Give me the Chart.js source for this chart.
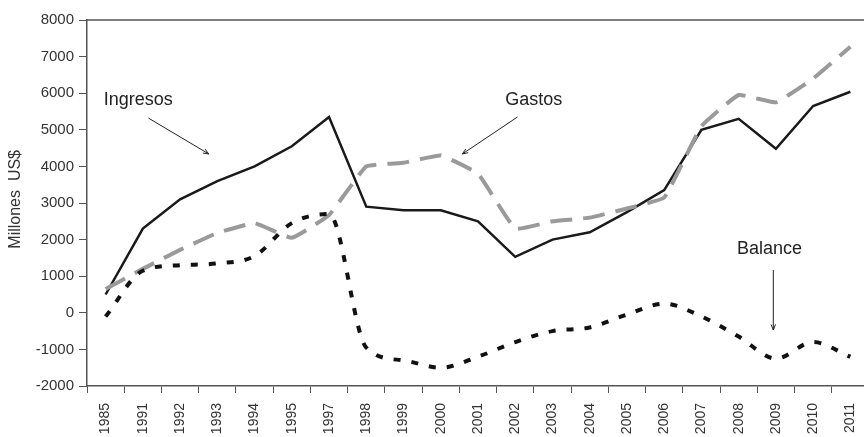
<!DOCTYPE html>
<html><head><meta charset="utf-8">
<script src="https://cdn.jsdelivr.net/npm/chart.js@4/dist/chart.umd.min.js"></script>
<style>html,body{margin:0;padding:0;background:#fff;overflow:hidden;width:864px;height:437px}canvas{display:block}</style>
</head><body>
<canvas id="c" width="880" height="437" style="width:880px;height:437px"></canvas>
<script>
const categories = ['1985','1991','1992','1993','1994','1995','1997','1998','1999','2000','2001','2002','2003','2004','2005','2006','2007','2008','2009','2010','2011'];
const ingresos = [500,2300,3100,3600,4000,4550,5350,2900,2800,2800,2500,1530,2000,2200,2750,3350,5000,5300,4480,5650,6040];
const gastos   = [650,1200,1720,2180,2450,2050,2670,4000,4100,4300,3800,2300,2500,2600,2850,3150,5100,5950,5750,6400,7270];
const balance  = [-100,1150,1300,1350,1550,2450,2700,-950,-1300,-1500,-1200,-800,-500,-400,-50,250,-100,-650,-1250,-800,-1200];
const yTitle = 'Millones  US$';
// annotations: text at (category index, value); arrows from/to (index, value)
const notes = [
  {text:'Ingresos', at:[-0.05,5815], align:'left', from:[1.15,5320], to:[2.77,4340]},
  {text:'Gastos', at:[11.5,5815], align:'center', from:[11.06,5350], to:[9.58,4340]},
  {text:'Balance', at:[17.83,1743], align:'center', from:[17.93,1170], to:[17.93,-470]}
];
const FONT = '"Liberation Sans", Arial, sans-serif';
const TXT = '#333333';
const AX = '#555555';

const annot = {
  id:'annot',
  afterDraw(chart){
    const {ctx, chartArea, scales:{x,y}} = chart;
    ctx.save();
    ctx.strokeStyle = AX; ctx.lineWidth = 1.5;
    ctx.beginPath(); ctx.moveTo(chartArea.left, chartArea.top); ctx.lineTo(chartArea.right, chartArea.top); ctx.stroke();
    // y axis title
    ctx.save();
    ctx.translate(16, y.getPixelForValue(3100));
    ctx.rotate(-Math.PI/2);
    ctx.font = '16px ' + FONT; ctx.fillStyle = TXT; ctx.textAlign = 'center'; ctx.textBaseline = 'middle';
    ctx.fillText(yTitle, 0, 0);
    ctx.restore();
    ctx.font = '18px ' + FONT; ctx.fillStyle = '#222'; ctx.textBaseline = 'middle';
    const px = p => [x.getPixelForValue(p[0]), y.getPixelForValue(p[1])];
    notes.forEach(n=>{
      const [tx,ty] = px(n.at);
      ctx.textAlign = n.align;
      ctx.fillText(n.text, tx, ty);
      const [x1,y1] = px(n.from), [x2,y2] = px(n.to);
      ctx.strokeStyle = '#222'; ctx.lineWidth = 1;
      ctx.beginPath(); ctx.moveTo(x1,y1); ctx.lineTo(x2,y2); ctx.stroke();
      const a = Math.atan2(y2-y1, x2-x1), L = 6, w = 0.38;
      ctx.beginPath();
      ctx.moveTo(x2 - L*Math.cos(a-w), y2 - L*Math.sin(a-w));
      ctx.lineTo(x2, y2);
      ctx.lineTo(x2 - L*Math.cos(a+w), y2 - L*Math.sin(a+w));
      ctx.stroke();
    });
    ctx.restore();
  }
};

new Chart(document.getElementById('c'), {
  type:'line',
  data:{
    labels: categories,
    datasets:[
      {label:'Balance', data:balance, borderColor:'#111', borderWidth:4, borderDash:[7,11], cubicInterpolationMode:'monotone', pointRadius:0, fill:false},
      {label:'Gastos', data:gastos, borderColor:'#9a9a9a', borderWidth:4, borderDash:[22,11], tension:0.1, pointRadius:0, fill:false},
      {label:'Ingresos', data:ingresos, borderColor:'#1a1a1a', borderWidth:2.5, tension:0, pointRadius:0, fill:false}
    ]
  },
  options:{
    responsive:false, animation:false,
    layout:{padding:{left:0, right:11, top:20, bottom:0}},
    plugins:{legend:{display:false}, tooltip:{enabled:false}},
    scales:{
      x:{
        offset:true,
        grid:{display:true, drawOnChartArea:false, drawTicks:true, tickLength:7, color:AX, offset:true},
        border:{display:true, color:AX, width:1.5},
        ticks:{minRotation:90, maxRotation:90, autoSkip:false, padding:10, color:TXT, font:{family:FONT, size:14}},
        afterFit(s){ s.height = 51; }
      },
      y:{
        min:-2000, max:8000,
        grid:{display:true, drawOnChartArea:false, drawTicks:true, tickLength:8, color:AX},
        border:{display:true, color:AX, width:1.5},
        ticks:{stepSize:1000, padding:5, color:TXT, font:{family:FONT, size:15}, callback:v=>String(v)},
        title:{display:false},
        afterFit(s){ s.width = 87; }
      }
    }
  },
  plugins:[annot]
});
</script>
</body></html>
